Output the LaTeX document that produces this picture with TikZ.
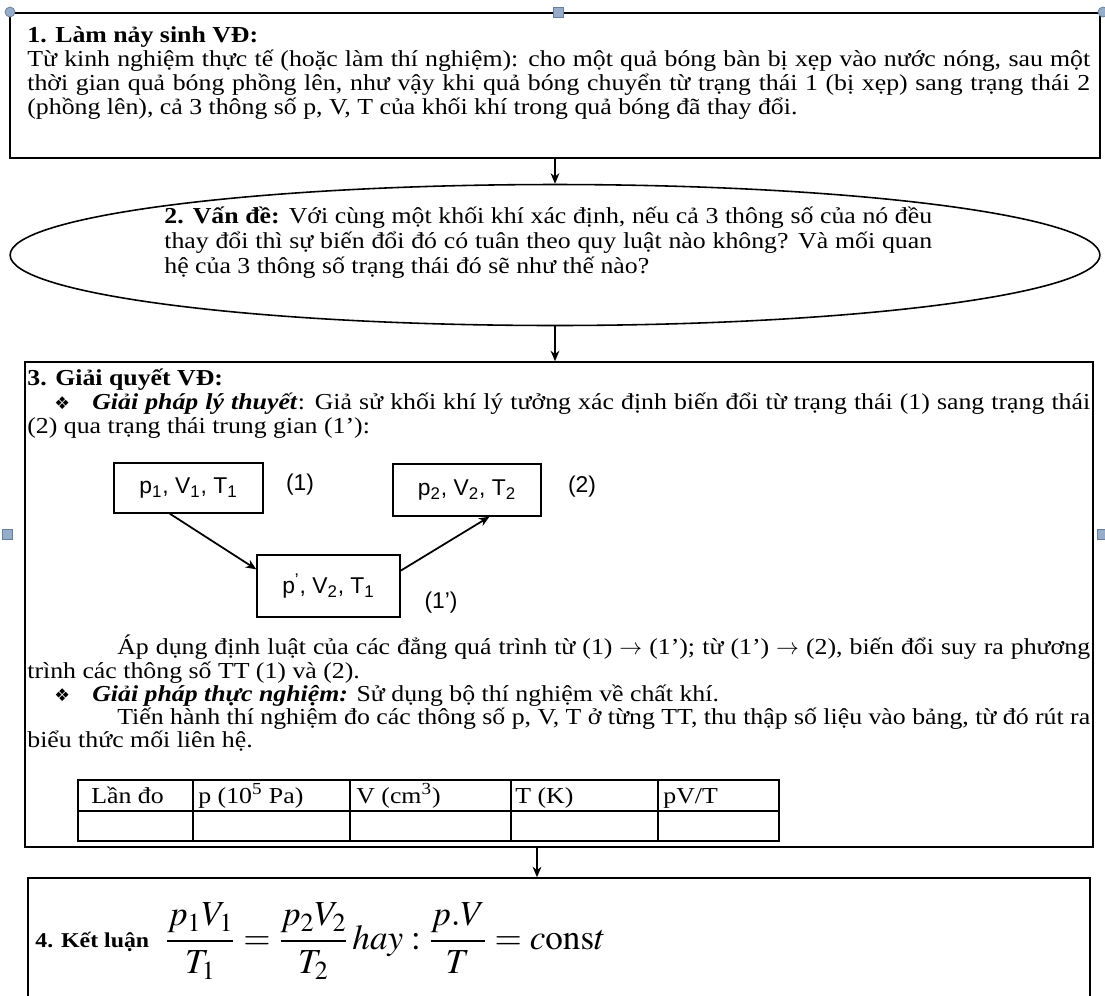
\documentclass[tikz,border=0pt]{standalone}
\usepackage{mathptmx}
\usepackage{fontspec}
\setmainfont{Liberation Serif}[FakeStretch=1.13]
\setsansfont{Liberation Sans}
\newfontfamily\dingfont{DejaVu Sans}
\usepackage{tikz}
\usetikzlibrary{positioning, fit, shapes.geometric, arrows.meta}

\definecolor{handlefill}{RGB}{150,172,200}
\definecolor{handledraw}{RGB}{100,125,160}
\newcommand{\jline}[2]{\makebox[#1][s]{#2}}
\newcommand{\dingbullet}{{\dingfont\fontsize{10}{10}\selectfont ❖}}

\tikzset{
  boxframe/.style={draw, line width=0.9pt, inner sep=0pt},
  txt/.style={anchor=base west, inner sep=0pt, font=\fontsize{13}{14}\selectfont},
  statebox/.style={draw, line width=0.8pt, font=\sffamily\fontsize{13}{15}\selectfont, inner sep=0pt},
  statetag/.style={font=\sffamily\fontsize{13}{15}\selectfont, inner sep=0pt},
  handle/.style={draw=handledraw, fill=handlefill, minimum size=0.2cm, inner sep=0pt},
}

\begin{document}
\begin{tikzpicture}[x=0.02cm, y=-0.02cm, >={Stealth[length=6pt, width=5pt]}]
    \useasboundingbox (0,0) rectangle (1105,995);
    \clip (0,0) rectangle (1105,995);

    % Bước 1: làm nảy sinh vấn đề
    \node[boxframe, fit={(10,13) (1100,158)}] (box1) {};
    \node[txt, font=\bfseries\fontsize{13}{14}\selectfont] (h1) at (27,42) {1. Làm nảy sinh VĐ:};
    \node[txt] (l1a) at (27,66) {\jline{21.26cm}{Từ kinh nghiệm thực tế (hoặc làm thí nghiệm): cho một quả bóng bàn bị xẹp vào nước nóng, sau một}};
    \node[txt] (l1b) at (27,90) {\jline{21.26cm}{thời gian quả bóng phồng lên, như vậy khi quả bóng chuyển từ trạng thái 1 (bị xẹp) sang trạng thái 2}};
    \node[txt] (l1c) at (27,114) {(phồng lên), cả 3 thông số p, V, T của khối khí trong quả bóng đã thay đổi.};

    % Bước 2: vấn đề
    \node[boxframe, ellipse, minimum width=21.8cm, minimum height=2.82cm] (prob) at (555,255) {};
    \node[txt] (l2a) at (164,223) {\jline{15.36cm}{\textbf{2. Vấn đề:} Với cùng một khối khí xác định, nếu cả 3 thông số của nó đều}};
    \node[txt] (l2b) at (164,248) {\jline{15.36cm}{thay đổi thì sự biến đổi đó có tuân theo quy luật nào không? Và mối quan}};
    \node[txt] (l2c) at (164,273) {hệ của 3 thông số trạng thái đó sẽ như thế nào?};

    % Bước 3: giải quyết vấn đề
    \node[boxframe, fit={(25,362) (1093,847)}] (box3) {};
    \node[txt, font=\bfseries\fontsize{13}{14}\selectfont] (h3) at (27,385) {3. Giải quyết VĐ:};
    \node[txt] (b3a) at (54,409) {\dingbullet};
    \node[txt] (l3a) at (92,409) {\jline{19.96cm}{\textbf{\textit{Giải pháp lý thuyết}}: Giả sử khối khí lý tưởng xác định biến đổi từ trạng thái (1) sang trạng thái}};
    \node[txt] (l3b) at (27,433) {(2) qua trạng thái trung gian (1’):};

    \node[statebox, minimum width=2.98cm, minimum height=1cm] (s1) at (188.5,488) {p\textsubscript{1}, V\textsubscript{1}, T\textsubscript{1}};
    \node[statebox, minimum width=2.96cm, minimum height=1.04cm] (s2) at (467,490) {p\textsubscript{2}, V\textsubscript{2}, T\textsubscript{2}};
    \node[statebox, minimum width=2.86cm, minimum height=1.24cm] (s3) at (328.5,586) {p\textsuperscript{’}, V\textsubscript{2}, T\textsubscript{1}};
    \node[statetag] (t1) at (300,485) {(1)};
    \node[statetag] (t2) at (582,487) {(2)};
    \node[statetag] (t3) at (441,603) {(1’)};
    \draw[->, line width=1pt] (s1.234) -- (s3.167);
    \draw[->, line width=1pt] (s3.12) -- (s2.310);

    \node[txt] (l3c) at (117,654) {\jline{19.46cm}{Áp dụng định luật của các đẳng quá trình từ (1) $\rightarrow$ (1’); từ (1’) $\rightarrow$ (2), biến đổi suy ra phương}};
    \node[txt] (l3d) at (27,678) {trình các thông số TT (1) và (2).};
    \node[txt] (b3b) at (54,701) {\dingbullet};
    \node[txt] (l3e) at (92,701) {\textbf{\textit{Giải pháp thực nghiệm:}} Sử dụng bộ thí nghiệm về chất khí.};
    \node[txt] (l3f) at (117,724) {\jline{19.46cm}{Tiến hành thí nghiệm đo các thông số p, V, T ở từng TT, thu thập số liệu vào bảng, từ đó rút ra}};
    \node[txt] (l3g) at (27,747) {biểu thức mối liên hệ.};

    % Bảng số liệu
    \draw[line width=0.9pt] (78,780) rectangle (779,841);
    \draw[line width=0.9pt] (78,811) -- (779,811);
    \foreach \x in {193,350,511,658}
        \draw[line width=0.9pt] (\x,780) -- (\x,841);
    \node[txt] (c1) at (91,803) {Lần đo};
    \node[txt] (c2) at (198,803) {p (10\textsuperscript{5} Pa)};
    \node[txt] (c3) at (356,803) {V (cm\textsuperscript{3})};
    \node[txt] (c4) at (515,803) {T (K)};
    \node[txt] (c5) at (663,803) {pV/T};

    % Bước 4: kết luận
    \node[boxframe, fit={(28,878) (1090,1010)}] (box4) {};
    \node[txt, font=\bfseries\fontsize{12}{13}\selectfont] (h4) at (35,947) {4. Kết luận};
    \node[anchor=west, inner sep=0pt, font=\fontsize{20}{24}\selectfont] (law) at (165,941)
        {$\displaystyle \frac{p_1V_1}{T_1}=\frac{p_2V_2}{T_2}\,hay:\frac{p.V}{T}=c\mathrm{ons}t$};

    % Mũi tên nối các bước
    \coordinate (ax) at (537,0);
    \draw[->, line width=0.8pt] (box1.south) -- (prob.north);
    \draw[->, line width=0.8pt] (prob.south) -- (prob.south |- box3.north);
    \draw[->, line width=0.8pt] (box3.south -| ax) -- (box4.north -| ax);

    % Tay nắm khung chọn
    \node[handle, circle] (hA) at (10,12) {};
    \node[handle] (hB) at (558,12) {};
    \node[handle, circle] (hC) at (1103,12) {};
    \node[handle] (hD) at (7,534) {};
    \node[handle] (hE) at (1102,534) {};
\end{tikzpicture}
\end{document}
